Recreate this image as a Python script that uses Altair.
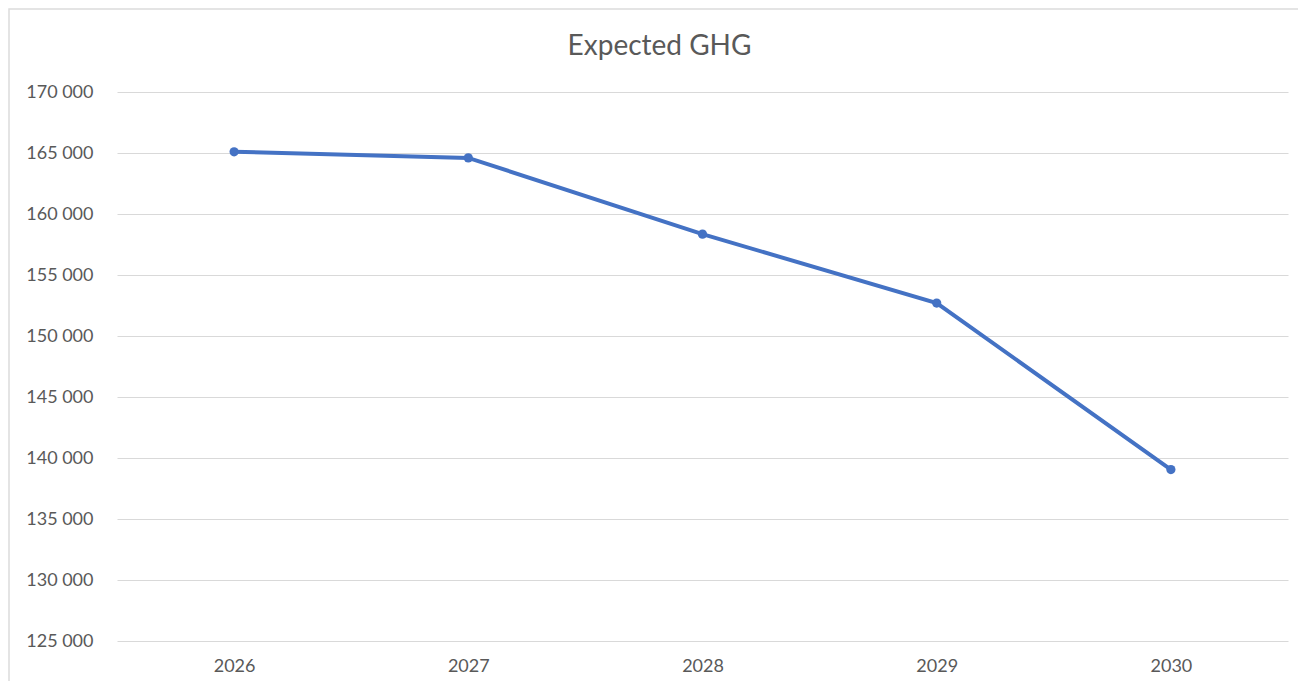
import altair as alt
import pandas as pd

years = ["2026", "2027", "2028", "2029", "2030"]
ghg = [165100, 164600, 158350, 152700, 139050]
y_ticks = [125000, 130000, 135000, 140000, 145000, 150000, 155000, 160000, 165000, 170000]

df = pd.DataFrame({"year": years, "ghg": ghg})

FONT = "Lato"
GREY = "#595959"

W, H = 1171, 549
PAD_L, PAD_T = 109, 84

base = alt.Chart(df)

line = base.mark_line(color="#4472C4", strokeWidth=4).encode(
    x=alt.X("year:O", scale=alt.Scale(type="point", padding=0.5),
            axis=alt.Axis(title=None, labelAngle=0, domain=False, ticks=False,
                          labelPadding=16, labelFontSize=18, labelColor=GREY,
                          labelFont=FONT, grid=False)),
    y=alt.Y("ghg:Q", scale=alt.Scale(domain=[125000, 170000], nice=False, zero=False),
            axis=alt.Axis(title=None, values=y_ticks, domain=False, ticks=False,
                          labelPadding=24, labelFontSize=18, labelColor=GREY,
                          labelFont=FONT, gridColor="#d9d9d9", gridWidth=1,
                          labelExpr="replace(format(datum.value, ','), ',', ' ')")),
)

points = base.mark_circle(color="#4472C4", size=85, opacity=1).encode(
    x=alt.X("year:O"),
    y=alt.Y("ghg:Q"),
)

frame = alt.Chart(pd.DataFrame({"k": [0]})).mark_rect(
    fill=None, stroke="#dcdcdc", strokeWidth=1.5, clip=False
).encode(
    x=alt.value(-PAD_L + 1), x2=alt.value(W + 200),
    y=alt.value(-PAD_T + 1), y2=alt.value(H + 200),
)

chart = alt.layer(frame, line, points).properties(
    width=W, height=H,
    title=alt.TitleParams("Expected GHG", fontSize=28, font=FONT, color=GREY,
                          fontWeight="normal", anchor="middle", dx=-43,
                          baseline="alphabetic", offset=-75),
    autosize=alt.AutoSizeParams(type="none"),
    padding={"left": PAD_L, "top": PAD_T, "right": 10, "bottom": 40},
).configure(background="white").configure_view(stroke=None)

chart.save("out.html", embed_options={"renderer": "svg", "actions": False})
